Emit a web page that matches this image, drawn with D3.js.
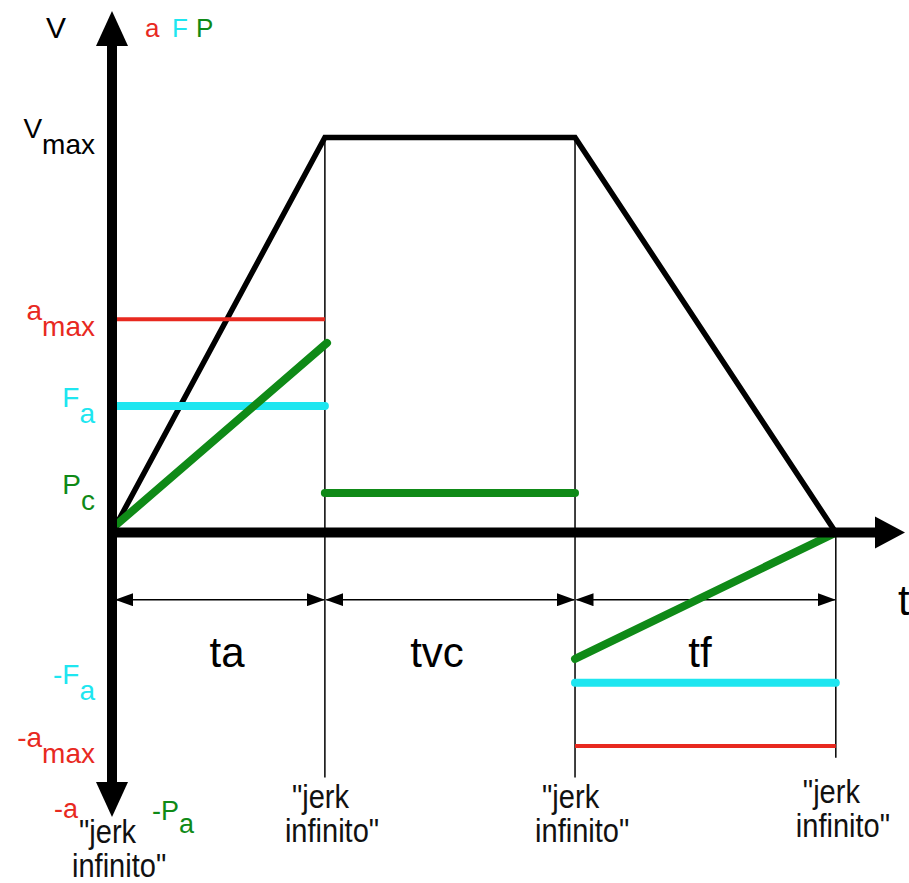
<!DOCTYPE html>
<html>
<head>
<meta charset="utf-8">
<script src="https://cdn.jsdelivr.net/npm/d3@7"></script>
<style>
  body { margin: 0; background: #fff; }
  text { font-family: "Liberation Sans", Arial, sans-serif; }
</style>
</head>
<body>
<div id="chart"></div>
<script>
// phase boundaries on the time axis (arbitrary units)
const phases = ["ta", "tvc", "tf"];
const tBounds = [0, 2, 4.35, 6.8];

// velocity profile (percent of Vmax)
const velocity = [[0, 0], [2, 100], [4.35, 100], [6.8, 0]];

// acceleration a (red), force F (cyan), power P (green)
const accel = [[[0, 54], [2, 54]], [[4.35, -54], [6.8, -54]]];
const force = [[[0, 32], [2, 32]], [[4.35, -38], [6.8, -38]]];
const power = [[[0, 1], [2.02, 48]], [[2, 10], [4.35, 10]], [[4.35, -32], [6.8, 0]]];

// level labels on the vertical axis
const levelLabels = [
    { main: "V", sub: "max", value: 100, series: "v" },
    { main: "a", sub: "max", value: 54, series: "a" },
    { main: "F", sub: "a", value: 32, series: "F" },
    { main: "P", sub: "c", value: 10, series: "P" },
    { main: "-F", sub: "a", value: -38, series: "F" },
    { main: "-a", sub: "max", value: -54, series: "a" }
];
const jerkLabel = ["\"jerk", "infinito\""];

const colors = { v: "#000", a: "#e8291f", F: "#1ee6f0", P: "#0f8a17" };

let svg = d3.select("#chart").append("svg")
    .attr("width", 909).attr("height", 883);

let x = d3.scaleLinear().domain([0, 7.45]).range([112, 905]);
let y = d3.scaleLinear().domain([-72, 132]).range([817, 11]);
let line = d3.line().x(d => x(d[0])).y(d => y(d[1]));

// arrow marker for the dimension lines
svg.append("defs").append("marker")
    .attr("id", "dim")
    .attr("markerUnits", "userSpaceOnUse")
    .attr("viewBox", "0 0 18 13")
    .attr("refX", 17).attr("refY", 6.5)
    .attr("markerWidth", 18).attr("markerHeight", 13)
    .attr("orient", "auto-start-reverse")
    .append("path").attr("d", "M0,0L18,6.5L0,13Z").attr("fill", "#000");

// thin vertical guide lines at the phase boundaries
[[tBounds[1], 100, -62], [tBounds[2], 100, -62], [tBounds[3], 0, -57]].forEach(g => {
    svg.append("line")
        .attr("x1", x(g[0])).attr("x2", x(g[0]))
        .attr("y1", y(g[1])).attr("y2", y(g[2]))
        .attr("stroke", "#000").attr("stroke-width", 1.5);
});

// dimension arrows
for (let i = 0; i < phases.length; i++) {
    svg.append("line")
        .attr("x1", x(tBounds[i]) + (i === 0 ? 4 : 1.5)).attr("x2", x(tBounds[i + 1]) - 1)
        .attr("y1", y(-17)).attr("y2", y(-17))
        .attr("stroke", "#000").attr("stroke-width", 1.5)
        .attr("marker-start", "url(#dim)")
        .attr("marker-end", "url(#dim)");
}
let phaseX = [227, 437, 700];
phases.forEach((p, i) => {
    svg.append("text")
        .attr("x", phaseX[i]).attr("y", y(-17) + 67)
        .attr("text-anchor", "middle")
        .style("font-size", "42px")
        .text(p);
});

// velocity trapezoid
svg.append("path")
    .attr("d", line(velocity))
    .attr("fill", "none").attr("stroke", "#000")
    .attr("stroke-width", 5.5).attr("stroke-linejoin", "miter");

// acceleration, force, power
accel.forEach(seg => {
    svg.append("path").attr("d", line(seg))
        .attr("stroke", colors.a).attr("stroke-width", 4).attr("fill", "none");
});
force.forEach(seg => {
    svg.append("path").attr("d", line(seg))
        .attr("stroke", colors.F).attr("stroke-width", 8)
        .attr("stroke-linecap", "round").attr("fill", "none");
});
power.forEach(seg => {
    svg.append("path").attr("d", line(seg))
        .attr("stroke", colors.P).attr("stroke-width", 8)
        .attr("stroke-linecap", "round").attr("fill", "none");
});

// axes
svg.append("line")
    .attr("x1", x(0)).attr("x2", x(0))
    .attr("y1", y(132) + 30).attr("y2", y(-72) - 30)
    .attr("stroke", "#000").attr("stroke-width", 10);
svg.append("line")
    .attr("x1", x(0) - 5).attr("x2", x(7.45) - 30)
    .attr("y1", y(0)).attr("y2", y(0))
    .attr("stroke", "#000").attr("stroke-width", 10);
let heads = [
    [[x(0), y(132)], [x(0) - 16, y(132) + 35], [x(0) + 16, y(132) + 35]],
    [[x(0), y(-72)], [x(0) - 16, y(-72) - 35], [x(0) + 16, y(-72) - 35]],
    [[x(7.45), y(0)], [x(7.45) - 30, y(0) - 16], [x(7.45) - 30, y(0) + 16]]
];
heads.forEach(h => {
    svg.append("path").attr("d", "M" + h.join("L") + "Z").attr("fill", "#000");
});

// level labels with subscripts
levelLabels.forEach(l => {
    let t = svg.append("text")
        .attr("x", x(0) - 17).attr("y", y(l.value) + 1)
        .attr("text-anchor", "end")
        .style("font-size", "28px")
        .attr("fill", colors[l.series]);
    t.append("tspan").text(l.main);
    t.append("tspan").attr("dy", 16).text(l.sub);
});

// axis names
svg.append("text").attr("x", 46).attr("y", 38)
    .style("font-size", "30px").text("V");
[["a", 145], ["F", 172], ["P", 196]].forEach(d => {
    svg.append("text").attr("x", d[1]).attr("y", 37)
        .style("font-size", "26px").attr("fill", colors[d[0]]).text(d[0]);
});
svg.append("text").attr("x", 54).attr("y", 818)
    .style("font-size", "27px").attr("fill", colors.a).text("-a");
let pa = svg.append("text").attr("x", 152).attr("y", 820)
    .style("font-size", "27px").attr("fill", colors.P);
pa.append("tspan").text("-P");
pa.append("tspan").attr("dy", 13).text("a");
svg.append("text").attr("x", 898).attr("y", 615)
    .style("font-size", "42px").text("t");

// "jerk infinito" notes under each boundary (slightly condensed type)
let jerkBase = [843, 808, 808, 803];
tBounds.forEach((t, i) => {
    let g = svg.append("text")
        .attr("transform", `translate(${x(t) - 40},${jerkBase[i]}) scale(0.88,1)`)
        .style("font-size", "33px").attr("fill", "#111");
    g.append("tspan").attr("x", 8).text(jerkLabel[0]);
    g.append("tspan").attr("x", 0).attr("dy", 34).text(jerkLabel[1]);
});
</script>
</body>
</html>
